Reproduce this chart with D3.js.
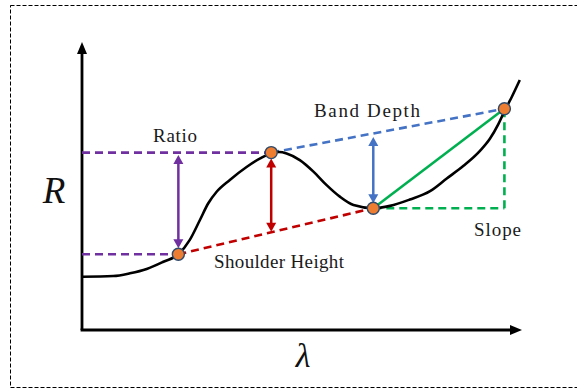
<!DOCTYPE html>
<html>
<head>
<meta charset="utf-8">
<script src="https://cdn.jsdelivr.net/npm/d3@7"></script>
<style>
  html, body { margin: 0; padding: 0; background: #fff; }
  svg { display: block; }
</style>
</head>
<body>
<svg id="chart" width="577" height="390"></svg>
<script>
// ---- data (λ and R in arbitrary 0–100 units) ----
const curveX = [0, 7.1, 10.9, 14.7, 18.5, 21.9, 24.5, 26.8, 28.7, 30.6, 33.6, 37.4, 40.5, 43.0, 44.8, 46.5, 49.5, 52.6, 55.6, 58.6, 61.7, 66.2, 70.0, 74.5, 79.1, 82.9, 86.7, 90.5, 92.7, 94.6, 95.9, 97.7, 99.5];
const curveR = [18.5, 18.75, 19.7, 21.2, 23.7, 26.3, 31.3, 38.2, 44.0, 48.0, 52.1, 56.6, 59.6, 61.4, 61.8, 61.3, 59.0, 55.0, 50.3, 46.3, 43.4, 42.3, 43.1, 45.3, 48.2, 52.6, 57.0, 62.3, 66.4, 71.4, 75.6, 81.0, 86.8];
const featureNames = ["shoulder1", "peak", "band", "shoulder2"];
const featureX = [21.9, 43.0, 66.2, 96.0];
const featureR = [26.3, 61.6, 42.3, 76.8];
const labelTexts = ["Ratio", "Band Depth", "Shoulder Height", "Slope"];
const axisLabels = ["R", "λ"];

const svg = d3.select("#chart");
const x = d3.scaleLinear().domain([0, 100]).range([82, 522]);
const y = d3.scaleLinear().domain([0, 100]).range([330, 42]);

const C = { purple: "#7030A0", red: "#C00000", blue: "#4472C4", green: "#00B050", orange: "#ED7D31", ptStroke: "#2F4A6B" };
const F = "'Liberation Serif', 'Times New Roman', serif";

// border
svg.append("rect").attr("x", 10.5).attr("y", 5.5).attr("width", 600).attr("height", 382)
  .attr("fill", "none").attr("stroke", "#000").attr("stroke-width", 1).attr("stroke-dasharray", "4,2");

const P = featureX.map((v, i) => ({ x: v, r: featureR[i] }));
const lerpR = (a, b, xv) => a.r + (xv - a.x) / (b.x - a.x) * (b.r - a.r);

// axes
const axW = 2.8;
svg.append("line").attr("x1", x(0)).attr("y1", y(0)).attr("x2", x(0)).attr("y2", y(100) + 10)
  .attr("stroke", "#000").attr("stroke-width", axW);
svg.append("line").attr("x1", x(0) - axW / 2).attr("y1", y(0)).attr("x2", x(100) - 10).attr("y2", y(0))
  .attr("stroke", "#000").attr("stroke-width", axW);
svg.append("path").attr("d", `M${x(0)},${y(100)} L${x(0) - 5},${y(100) + 12} L${x(0) + 5},${y(100) + 12} Z`).attr("fill", "#000");
svg.append("path").attr("d", `M${x(100)},${y(0)} L${x(100) - 12},${y(0) - 5} L${x(100) - 12},${y(0) + 5} Z`).attr("fill", "#000");

const dashW = 2.6, dash = "8,5";
function dline(x1, r1, x2, r2, col, solid) {
  svg.append("line").attr("x1", x(x1)).attr("y1", y(r1)).attr("x2", x(x2)).attr("y2", y(r2))
    .attr("stroke", col).attr("stroke-width", dashW).attr("stroke-dasharray", solid ? null : dash);
}
// purple ratio guides
dline(0, P[1].r, P[1].x, P[1].r, C.purple);
dline(0, P[0].r, P[0].x, P[0].r, C.purple);
// blue continuum
dline(P[1].x, P[1].r, P[3].x, P[3].r, C.blue);
// red shoulder continuum
dline(P[0].x, P[0].r, P[2].x, P[2].r, C.red);
// green slope
dline(P[2].x, P[2].r, P[3].x, P[2].r, C.green);
dline(P[3].x, P[2].r, P[3].x, P[3].r, C.green);
dline(P[2].x, P[2].r, P[3].x, P[3].r, C.green, true);

// double arrows
function darrow(xv, rTop, rBot, offTop, offBot, col) {
  const px = x(xv), y1 = y(rTop) + offTop, y2 = y(rBot) - offBot, h = 9, w = 5;
  svg.append("line").attr("x1", px).attr("y1", y1 + h - 1).attr("x2", px).attr("y2", y2 - h + 1)
    .attr("stroke", col).attr("stroke-width", 2.5);
  svg.append("path").attr("d", `M${px},${y1} L${px - w},${y1 + h} L${px + w},${y1 + h} Z`).attr("fill", col);
  svg.append("path").attr("d", `M${px},${y2} L${px - w},${y2 - h} L${px + w},${y2 - h} Z`).attr("fill", col);
}
darrow(P[0].x, P[1].r, P[0].r, 2.5, 6, C.purple);
darrow(P[1].x, P[1].r, lerpR(P[0], P[2], P[1].x), 6, 0.5, C.red);
darrow(P[2].x, lerpR(P[1], P[3], P[2].x), P[2].r, 3.5, 5, C.blue);

// spectrum curve
const line = d3.line().x(d => x(d[0])).y(d => y(d[1])).curve(d3.curveMonotoneX);
svg.append("path").datum(curveX.map((v, i) => [v, curveR[i]])).attr("d", line)
  .attr("fill", "none").attr("stroke", "#000").attr("stroke-width", 2.6);

// feature points
svg.selectAll("circle.pt").data(P).enter().append("circle").attr("class", "pt")
  .attr("cx", d => x(d.x)).attr("cy", d => y(d.r)).attr("r", 6)
  .attr("fill", C.orange).attr("stroke", C.ptStroke).attr("stroke-width", 1.4);

// labels
function label(t, px, py, anchor, len) {
  svg.append("text").attr("x", px).attr("y", py).attr("text-anchor", anchor)
    .attr("font-family", F).attr("font-size", 19)
    .attr("textLength", len).attr("lengthAdjust", "spacing")
    .attr("fill", "#1a1a1a").text(t);
}
label(labelTexts[0], 175, 141.5, "middle", 44);
label(labelTexts[1], 367, 116.5, "middle", 106);
label(labelTexts[2], 214, 267.5, "start", 130);
label(labelTexts[3], 521, 235.5, "end", 47);

svg.append("text").attr("x", 54).attr("y", 203).attr("text-anchor", "middle")
  .attr("font-family", F).attr("font-style", "italic").attr("font-size", 37)
  .attr("fill", "#111").text(axisLabels[0]);
svg.append("text").attr("x", 303).attr("y", 367).attr("text-anchor", "middle")
  .attr("font-family", F).attr("font-style", "italic").attr("font-size", 34)
  .attr("fill", "#111").text(axisLabels[1]);
</script>
</body>
</html>
